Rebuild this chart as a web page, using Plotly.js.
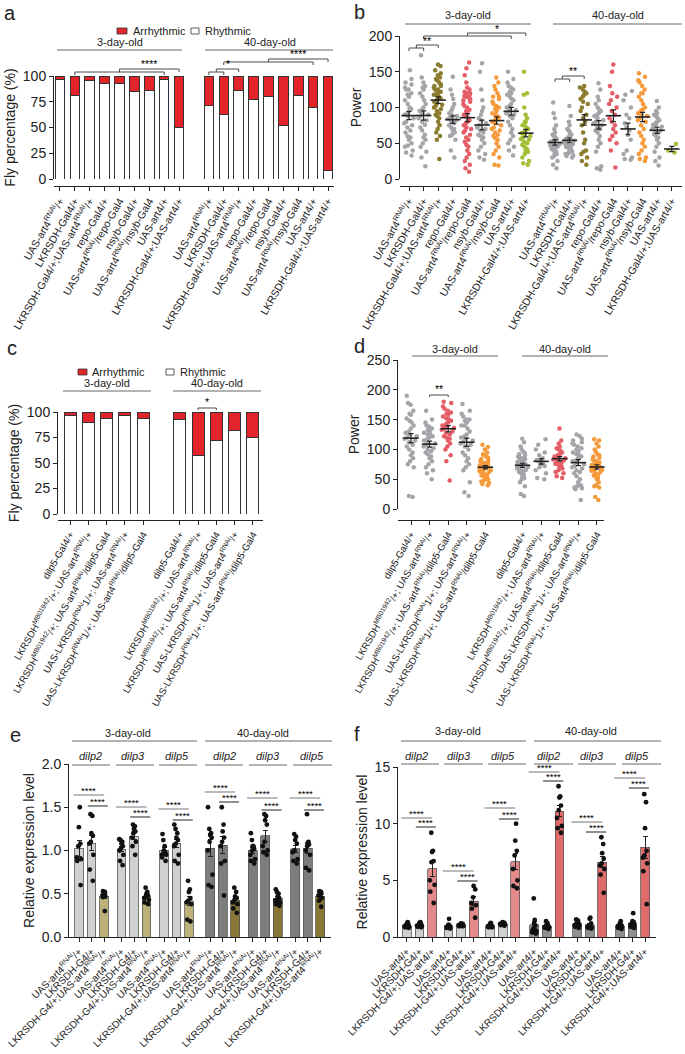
<!DOCTYPE html>
<html><head><meta charset="utf-8">
<script src="https://cdn.plot.ly/plotly-3.0.1.min.js"></script>
<style>html,body{margin:0;padding:0;background:#fff}#chart{width:685px;height:1054px}</style>
</head><body><div id="chart"></div>
<script>
// ---------------- DATA ----------------
// Panel a / b genotypes
const abGenotypes = ['UAS-art4<sup>RNAi</sup>/+','LKRSDH-Gal4/+','LKRSDH-Gal4/+;UAS-art4<sup>RNAi</sup>/+','repo-Gal4/+','UAS-art4<sup>RNAi</sup>/repo-Gal4','nsyb-Gal4/+','UAS-art4<sup>RNAi</sup>/nsyb-Gal4','UAS-art4/+','LKRSDH-Gal4/+;UAS-art4/+'];
// Panel a: fly percentage (%)
const aRhythmic3d    = [97,81,96,93,93,85,86,97,50];
const aArrhythmic3d  = [3,19,4,7,7,15,14,3,50];
const aRhythmic40d   = [71,63,86,77,80,52,81,69,8];
const aArrhythmic40d = [29,37,14,23,20,48,19,31,92];
// Panel b: power per fly
const bPower3d = [
 [152,140,135,132,128,125,125,120,118,115,110,105,100,98,95,92,90,88,85,80,78,75,72,68,65,60,58,55,50,47,45,40,37,33],
 [173,142,135,130,128,125,120,115,110,105,100,97,95,92,90,88,85,82,80,76,72,68,62,58,55,50,45,38,30,18],
 [160,158,152,148,145,142,140,138,135,132,130,128,125,122,120,118,117,115,113,112,110,108,106,104,102,100,98,95,92,90,88,85,80,75,70,65,60,55,120,28,130,125],
 [143,125,118,112,105,100,96,92,90,88,86,84,82,80,78,75,72,70,68,65,62,60,55,40,30],
 [163,155,145,135,128,125,122,120,118,116,114,112,110,108,105,102,100,97,95,92,90,88,85,82,80,78,75,72,70,68,65,62,58,55,52,48,45,40,35,30,25,20,15,10,120,115],
 [162,150,125,110,100,95,90,85,82,78,75,72,70,68,65,62,60,58,55,50,45,40,35,30,27],
 [142,135,130,125,120,115,112,108,105,102,100,98,95,92,90,88,86,84,82,80,78,75,72,70,68,65,62,60,57,55,50,45,40,35,30,20,19,115],
 [150,140,135,130,128,125,122,118,115,112,110,105,102,100,98,96,94,92,90,88,85,80,75,70,65,60,55,50,45,40,33,120],
 [150,120,118,100,90,85,80,75,72,70,68,66,64,62,60,58,56,55,52,50,48,45,42,40,38,35,30,25,22,20,75,80]
];
const bPower40d = [
 [107,92,85,75,70,65,62,60,58,56,55,54,52,50,49,48,47,46,45,44,42,40,38,36,35,32,30,25,20,15],
 [102,88,80,75,70,68,65,62,60,58,56,55,54,52,50,49,48,46,45,44,42,40,38,36,35,33,32,30],
 [130,128,125,122,120,118,115,112,108,105,100,95,90,85,80,75,65,55,50,40,38,35,30,25,20],
 [134,125,115,110,105,100,97,95,92,90,88,85,82,80,78,75,72,70,68,65,60,55,50,45,38,18,15,13],
 [160,150,130,120,115,110,105,100,95,90,85,80,75,70,65,60,55,50,40,16],
 [123,118,110,100,90,85,78,72,68,62,55,40,35,30,28,27],
 [148,143,138,135,130,125,120,115,110,105,100,97,95,92,90,88,85,82,80,75,70,65,60,55,50,45,40,35,30,28,25,120],
 [109,100,95,92,90,88,85,82,80,78,76,75,73,72,70,68,66,65,63,60,58,55,50,45,38,30,25,19],
 [49,40,37]
];
// Panel c / d genotypes
const cdGenotypes = ['dilp5-Gal4/+','LKRSDH<sup>MB01942</sup>/+; UAS-art4<sup>RNAi</sup>/+','LKRSDH<sup>MB01942</sup>/+; UAS-art4<sup>RNAi</sup>/dilp5-Gal4','UAS-LKRSDH<sup>RNAi</sup>1/+; UAS-art4<sup>RNAi</sup>/+','UAS-LKRSDH<sup>RNAi</sup>1/+; UAS-art4<sup>RNAi</sup>/dilp5-Gal4'];
const cRhythmic3d    = [97,90,94,97,94];
const cArrhythmic3d  = [3,10,6,3,6];
const cRhythmic40d   = [93,57,72,82,75];
const cArrhythmic40d = [7,43,28,18,25];
const dPower3d = [
 [190,178,175,165,160,158,152,148,145,140,135,130,128,125,122,120,118,115,112,108,105,100,95,90,85,80,75,70,22,20],
 [165,150,145,140,138,135,132,128,125,122,120,118,115,112,110,108,105,102,100,97,95,92,88,85,80,75,70,65,60,50,130,125],
 [180,178,172,168,165,162,160,158,155,152,150,148,145,142,140,138,136,135,133,130,128,125,122,120,118,115,110,105,100,90,80,48],
 [176,165,160,155,150,148,145,140,135,130,125,122,120,118,115,112,110,108,105,100,95,90,85,80,75,70,65,45,28,22,150,140],
 [108,104,100,95,92,90,88,86,84,82,80,78,77,76,75,74,73,72,71,70,69,68,67,66,65,64,63,62,60,58,56,55,54,52,50,48,46,44,42,40]
];
const dPower40d = [
 [118,112,105,100,96,94,92,90,88,86,85,84,82,80,79,78,77,76,75,74,73,72,71,70,68,66,65,64,62,60,58,55,52,50,45,38,25,22],
 [117,108,100,95,90,85,82,80,78,75,72,70,65,60,52,50],
 [135,115,110,105,102,100,98,95,92,90,88,86,85,84,83,82,80,78,76,75,72,70,68,65,62,60,55,52],
 [125,122,118,115,112,110,108,105,102,100,97,95,92,90,88,85,82,80,78,75,72,70,68,65,62,60,55,50,45,40,38,36,35,33,15],
 [117,115,110,105,100,96,92,90,88,86,84,82,80,78,76,75,74,73,72,71,70,69,68,67,66,65,64,62,60,58,56,55,52,50,45,40,38,36,20,15]
];
// Panel e / f
const efGenes = ['dilp2','dilp3','dilp5'];
const eGenotypes = ['UAS-art4<sup>RNAi</sup>/+','LKRSDH-G4/+','LKRSDH-G4/+;UAS-art4<sup>RNAi</sup>/+'];
const fGenotypes = ['UAS-art4/+','LKRSDH-G4/+','LKRSDH-G4/+;UAS-art4/+'];
const eDilp2_3d  = [[1.50,1.27,1.08,1.05,0.92,0.90,0.88,0.60],[1.42,1.40,1.20,1.17,1.10,1.08,0.95,0.78,0.65],[0.53,0.52,0.51,0.50,0.49,0.48,0.47,0.46,0.30]];
const eDilp3_3d  = [[1.13,1.12,1.10,1.08,1.05,1.02,1.00,0.95,0.88,0.83],[1.30,1.28,1.25,1.22,1.20,1.15,1.10,1.05,0.95],[0.57,0.52,0.50,0.48,0.47,0.45,0.43,0.40,0.38]];
const eDilp5_3d  = [[1.19,1.12,1.05,1.00,0.98,0.97,0.95,0.95,0.92,0.88],[1.30,1.25,1.20,1.15,1.12,1.08,1.05,0.95,0.88,0.85],[0.65,0.55,0.52,0.45,0.42,0.40,0.38,0.20,0.18]];
const eDilp2_40d = [[1.50,1.25,1.20,1.18,1.15,1.10,1.00,0.72,0.60,0.58],[1.50,1.30,1.22,1.15,1.10,1.05,0.88,0.85,0.48],[0.57,0.52,0.47,0.45,0.43,0.40,0.38,0.33,0.28]];
const eDilp3_40d = [[1.20,1.12,1.05,1.05,1.02,1.00,0.95,0.90,0.88,0.85],[1.42,1.40,1.35,1.30,1.10,1.05,1.00,0.98,0.95],[0.55,0.52,0.50,0.47,0.45,0.43,0.42,0.40,0.38,0.36]];
const eDilp5_40d = [[1.19,1.16,1.12,1.08,1.00,0.98,0.90,0.88,0.85],[1.42,1.10,1.08,1.07,1.05,1.00,0.95,0.80,0.77],[0.53,0.52,0.51,0.50,0.49,0.48,0.45,0.42,0.35]];
const fDilp2_3d  = [[1.30,1.20,1.10,1.00,0.95,0.90,0.85,0.80],[1.30,1.25,1.15,1.05,1.00,0.95,0.90,0.85],[9.2,7.6,7.5,6.7,6.6,5.0,4.6,4.0,3.0]];
const fDilp3_3d  = [[1.60,1.10,1.00,0.95,0.90,0.85,0.80,0.75],[1.20,1.15,1.10,1.05,1.00,0.95,0.95],[4.5,4.2,3.5,3.0,2.8,2.5,1.7]];
const fDilp5_3d  = [[1.25,1.15,1.05,1.00,0.95,0.90,0.85,0.85],[1.30,1.25,1.20,1.15,1.10,1.05,1.00],[10.0,8.5,7.6,7.2,6.0,5.0,4.5,4.3]];
const fDilp2_40d = [[3.4,1.5,1.2,1.0,0.8,0.6,0.5,0.4,0.3],[1.4,1.2,1.1,1.0,0.95,0.9,0.85,0.8,0.7],[13.3,12.4,12.3,11.6,11.2,10.5,9.8,9.6,9.2]];
const fDilp3_40d = [[1.55,1.45,1.30,1.20,1.10,1.05,1.00,0.90,0.80],[1.70,1.60,1.20,1.00,0.90,0.85,0.80,0.75],[8.8,8.2,7.4,6.9,6.5,6.3,6.0,5.5,3.9]];
const fDilp5_40d = [[1.40,1.20,1.05,1.00,0.95,0.90,0.80,0.70],[2.10,1.40,1.30,1.20,1.10,1.00,0.90,0.80],[12.6,11.9,9.6,7.6,7.2,7.0,6.5,5.8,2.9]];

// ---------------- STYLE / HELPERS ----------------
const FONT = 'Liberation Sans, Arial, Helvetica, sans-serif';
const INK = '#222';
const W = 685, H = 1054;
const px = v => v / W, py = v => 1 - v / H;
const mean = a => a.reduce((s, v) => s + v, 0) / a.length;
const sem = a => { const m = mean(a); return Math.sqrt(a.reduce((s, v) => s + (v - m) ** 2, 0) / (a.length - 1) / a.length); };
const GRAY = '#a3a5a9', OLIVE = '#8b7c2e', PINK = '#e55d66', ORANGE = '#f59a3b', YG = '#a3bf35', RED = '#e3242b';
const bColors = [GRAY, GRAY, OLIVE, GRAY, PINK, GRAY, ORANGE, GRAY, YG];
const dColors = [GRAY, GRAY, PINK, GRAY, ORANGE];
const HDR = 11;

const traces = [], shapes = [], annotations = [];
function ann(xref, x, ypx, text, size, extra) {
  annotations.push(Object.assign({xref, yref: 'paper', x, y: py(ypx), text, showarrow: false,
    font: {family: FONT, size, color: INK}, xanchor: 'center', yanchor: 'middle'}, extra || {}));
}
function star(xref, x, ypx, text, size) {
  ann(xref, x, ypx, text, size, {font: {family: FONT, size, color: '#000000'}});
}
function hline(xref, x0, x1, ypx, color) {
  shapes.push({type: 'line', xref, yref: 'paper', x0, x1, y0: py(ypx), y1: py(ypx), layer: 'above', line: {color: color || '#666', width: 1}});
}
function bracket(xref, x0, x1, ypx, drop) {
  const y = py(ypx), yd = py(ypx + drop);
  shapes.push({type: 'path', xref, yref: 'paper', path: `M${x0},${yd} L${x0},${y} L${x1},${y} L${x1},${yd}`, layer: 'above',
    fillcolor: 'rgba(0,0,0,0)', line: {color: '#4a4a4a', width: 1}});
}
function rect(x0, x1, y0, y1, fill) {
  shapes.push({type: 'rect', xref: 'paper', yref: 'paper', x0: px(x0), x1: px(x1), y0: py(y1), y1: py(y0), fillcolor: fill, line: {color: '#333', width: 0.8}});
}
function swarm(xa, ya, pos, vals, color, size, width, jitter) {
  traces.push({type: 'box', xaxis: xa, yaxis: ya, x: vals.map(() => pos), y: vals, boxpoints: 'all', jitter, pointpos: 0,
    width, fillcolor: 'rgba(0,0,0,0)', line: {color: 'rgba(0,0,0,0)', width: 0}, marker: {color, size, line: {width: 0}},
    showlegend: false, hoverinfo: 'y'});
}
function meanSem(xa, ya, pos, groups) {
  traces.push({type: 'scatter', mode: 'markers', xaxis: xa, yaxis: ya, x: pos, y: groups.map(mean), cliponaxis: false,
    marker: {symbol: 'line-ew', size: 11, color: INK, line: {color: INK, width: 1.6}},
    error_y: {type: 'data', array: groups.map(sem), visible: true, color: INK, thickness: 1.2, width: 2.5}, showlegend: false});
}
function yAxis(topPx, botPx, range, tickvals, title, anchor, extra) {
  return Object.assign({domain: [py(botPx), py(topPx)], range, tickvals, anchor, ticks: 'outside', ticklen: 4, tickwidth: 1,
    tickcolor: INK, showline: true, linecolor: INK, linewidth: 1, showgrid: false, zeroline: false,
    tickfont: {family: FONT, size: 14, color: INK},
    title: {text: title, font: {family: FONT, size: 14, color: INK}, standoff: 3}}, extra || {});
}
function xAxis(l, r, range, tickvals, ticktext, angle, fsize, anchor, freePx) {
  const ax = {domain: [px(l), px(r)], range, tickvals, ticktext, tickangle: angle, ticks: 'outside', ticklen: 4, tickwidth: 1,
    tickcolor: INK, showline: true, linecolor: INK, linewidth: 1, showgrid: false, zeroline: false,
    ticklabeloverflow: 'allow', tickfont: {family: FONT, size: fsize, color: INK}};
  if (freePx != null) { ax.anchor = 'free'; ax.position = py(freePx); } else { ax.anchor = anchor; }
  return ax;
}

// ---------------- PANEL a ----------------
const abPos3 = abGenotypes.map((_, i) => i), abPos40 = abGenotypes.map((_, i) => i + 10);
const abPos = abPos3.concat(abPos40);
const abLabels = abGenotypes.concat(abGenotypes);
traces.push({type: 'bar', xaxis: 'x', yaxis: 'y', x: abPos, y: aRhythmic3d.concat(aRhythmic40d), width: 0.64, cliponaxis: false,
  marker: {color: '#ffffff', line: {color: '#333', width: 1}}, showlegend: false, name: 'Rhythmic'});
traces.push({type: 'bar', xaxis: 'x', yaxis: 'y', x: abPos, y: aArrhythmic3d.concat(aArrhythmic40d), width: 0.64, cliponaxis: false,
  marker: {color: RED, line: {color: '#333', width: 1}}, showlegend: false, name: 'Arrhythmic'});
// legend a
rect(117, 127, 28, 34, RED); ann('paper', px(131), 31, 'Arrhythmic', HDR, {xanchor: 'left'});
rect(191, 199, 28, 34, '#fff'); ann('paper', px(203), 31, 'Rhythmic', HDR, {xanchor: 'left'});
ann('paper', px(120), 42, '3-day-old', HDR); hline('paper', px(57), px(182), 50);
ann('paper', px(270), 42, '40-day-old', HDR); hline('paper', px(205), px(333), 50);
bracket('x', 1, 7, 72, 3); bracket('x', 4, 8, 69, 3); star('x', 6, 64, '****', 10.5);
bracket('x', 10, 11, 72, 3); bracket('x', 10.5, 12, 69, 3); star('x', 11.25, 64, '*', 10.5);
bracket('x', 11, 17, 62, 3); bracket('x', 14, 18, 59, 3); star('x', 16, 54, '****', 10.5);

// ---------------- PANEL b ----------------
bPower3d.forEach((g, i) => swarm('x2', 'y2', abPos3[i], g, bColors[i], 4.5, 0.9, 0.8));
bPower40d.forEach((g, i) => swarm('x2', 'y2', abPos40[i], g, bColors[i], 4.5, 0.9, 0.8));
meanSem('x2', 'y2', abPos, bPower3d.concat(bPower40d));
ann('paper', px(468), 15, '3-day-old', HDR); hline('paper', px(405), px(531), 24);
ann('paper', px(618), 15, '40-day-old', HDR); hline('paper', px(553), px(682), 24);
bracket('x2', 0, 1, 48, 3); bracket('x2', 0.5, 2, 45, 3); star('x2', 1.25, 41, '**', 10.5);
bracket('x2', 1, 7, 36, 3); bracket('x2', 4, 8, 33, 3); star('x2', 6, 29, '*', 10.5);
bracket('x2', 10, 11, 79, 3); bracket('x2', 10.5, 12, 76, 3); star('x2', 11.25, 71, '**', 10.5);

// ---------------- PANEL c ----------------
const cdPos3 = cdGenotypes.map((_, i) => i), cdPos40 = cdGenotypes.map((_, i) => i + 6);
const cdPos = cdPos3.concat(cdPos40);
const cdLabels = cdGenotypes.concat(cdGenotypes);
traces.push({type: 'bar', xaxis: 'x3', yaxis: 'y3', x: cdPos, y: cRhythmic3d.concat(cRhythmic40d), width: 0.66, cliponaxis: false,
  marker: {color: '#ffffff', line: {color: '#333', width: 1}}, showlegend: false, name: 'Rhythmic'});
traces.push({type: 'bar', xaxis: 'x3', yaxis: 'y3', x: cdPos, y: cArrhythmic3d.concat(cArrhythmic40d), width: 0.66, cliponaxis: false,
  marker: {color: RED, line: {color: '#333', width: 1}}, showlegend: false, name: 'Arrhythmic'});
rect(78, 87, 369, 375, RED); ann('paper', px(90), 372, 'Arrhythmic', HDR, {xanchor: 'left'});
rect(166, 174, 369, 375, '#fff'); ann('paper', px(178), 372, 'Rhythmic', HDR, {xanchor: 'left'});
ann('paper', px(107), 383, '3-day-old', HDR); hline('paper', px(63), px(151), 391);
ann('paper', px(217), 383, '40-day-old', HDR); hline('paper', px(173), px(261), 391);
bracket('x3', 7, 8, 408, 2); star('x3', 7.5, 402, '*', 10.5);

// ---------------- PANEL d ----------------
dPower3d.forEach((g, i) => swarm('x4', 'y4', cdPos3[i], g, dColors[i], 4.5, 0.9, 0.8));
dPower40d.forEach((g, i) => swarm('x4', 'y4', cdPos40[i], g, dColors[i], 4.5, 0.9, 0.8));
meanSem('x4', 'y4', cdPos, dPower3d.concat(dPower40d));
ann('paper', px(455), 349, '3-day-old', HDR); hline('paper', px(412), px(498), 356);
ann('paper', px(565), 349, '40-day-old', HDR); hline('paper', px(522), px(608), 356);
bracket('x4', 1, 2, 395, 2); star('x4', 1.5, 389, '**', 10.5);

// ---------------- PANELS e / f ----------------
function exprPanel(xa, ya, groupStart, sets, colors, dotSize) {
  const pos = [], ys = [], es = [], cols = [];
  sets.forEach((set, g) => set.forEach((vals, k) => {
    const p = groupStart[g] + k;
    pos.push(p); ys.push(mean(vals)); es.push(sem(vals)); cols.push(colors[g][k]);
  }));
  traces.push({type: 'bar', xaxis: xa, yaxis: ya, x: pos, y: ys, width: 0.7, cliponaxis: false,
    marker: {color: cols, line: {color: '#555', width: 0.8}},
    error_y: {type: 'data', array: es, visible: true, color: INK, thickness: 1, width: 2.5}, showlegend: false});
  sets.forEach((set, g) => set.forEach((vals, k) => swarm(xa, ya, groupStart[g] + k, vals, '#111', dotSize, 0.7, 0.7)));
  return pos;
}
const eStart = [0, 3.4, 6.8, 10.5, 13.9, 17.3];
const fStart = [0, 3.3, 6.6, 10.1, 13.5, 16.9];
const E3 = ['#cfd0d0', '#cfd0d0', '#bdb17b'], E40 = ['#7c7d7e', '#7c7d7e', '#877636'];
const F3 = ['#cfd0d0', '#cfd0d0', '#e58a8a'], F40 = ['#8f9091', '#8f9091', '#df6b6b'];
const ePos = exprPanel('x5', 'y5', eStart, [eDilp2_3d, eDilp3_3d, eDilp5_3d, eDilp2_40d, eDilp3_40d, eDilp5_40d], [E3, E3, E3, E40, E40, E40], 4.8);
const fPos = exprPanel('x6', 'y6', fStart, [fDilp2_3d, fDilp3_3d, fDilp5_3d, fDilp2_40d, fDilp3_40d, fDilp5_40d], [F3, F3, F3, F40, F40, F40], 4.8);
const eLabels = [].concat(...Array(6).fill(eGenotypes));
const fLabels = [].concat(...Array(6).fill(fGenotypes));

// e headers
ann('paper', px(128), 733, '3-day-old', HDR); hline('paper', px(72), px(197), 741);
ann('paper', px(263), 733, '40-day-old', HDR); hline('paper', px(205), px(332), 741);
[[90, 72, 110], [133, 116, 154], [177, 159, 197], [224, 205, 243], [268, 249, 287], [312, 293, 332]].forEach((g, i) => {
  ann('paper', px(g[0]), 756, '<i>' + efGenes[i % 3] + '</i>', HDR); hline('paper', px(g[1]), px(g[2]), 765);
});
// f headers
ann('paper', px(458), 731, '3-day-old', HDR); hline('paper', px(401), px(526), 741);
ann('paper', px(591), 731, '40-day-old', HDR); hline('paper', px(534), px(661), 741);
[[416, 401, 439], [459, 444, 483], [503, 488, 526], [548, 534, 573], [592, 578, 616], [637, 622, 661]].forEach((g, i) => {
  ann('paper', px(g[0]), 756, '<i>' + efGenes[i % 3] + '</i>', HDR); hline('paper', px(g[1]), px(g[2]), 764);
});
// significance lines
function sig(xa, start, l1, l2) {
  hline(xa, start - 0.45, start + 2, l1, '#777'); star(xa, start + 0.78, l1 - 5, '****', 9.5);
  hline(xa, start + 0.7, start + 2.3, l2, INK); star(xa, start + 1.5, l2 - 5, '****', 9.5);
}
const eSig = [[795, 806], [807, 817], [809, 820], [792, 802], [798, 810], [798, 810]];
const fSig = [[818, 827], [871, 881], [808, 819], [772, 781], [822, 832], [778, 788]];
eStart.forEach((s, i) => sig('x5', s, eSig[i][0], eSig[i][1]));
fStart.forEach((s, i) => sig('x6', s, fSig[i][0], fSig[i][1]));

// panel letters
[['a', 10, 13], ['b', 359, 12], ['c', 12, 348], ['d', 359, 346], ['e', 16, 735], ['f', 357, 734]].forEach(l =>
  ann('paper', px(l[1]), l[2], l[0], 20));

// ---------------- LAYOUT ----------------
const layout = {
  width: W, height: H, margin: {l: 0, r: 0, t: 0, b: 0}, paper_bgcolor: '#fff', plot_bgcolor: 'rgba(0,0,0,0)',
  showlegend: false, barmode: 'stack', font: {family: FONT, color: INK},
  xaxis:  xAxis(54, 334, [-0.4, 18.4], abPos, abLabels, -60, 10.5, null, 186),
  yaxis:  yAxis(76, 179, [0, 100], [0, 25, 50, 75, 100], 'Fly percentage (%)', 'x'),
  xaxis2: xAxis(400, 682, [-0.62, 18.7], abPos, abLabels, -60, 10.5, null, 186),
  yaxis2: yAxis(36, 179, [0, 200], [0, 50, 100, 150, 200], 'Power', 'x2'),
  xaxis3: xAxis(58, 263, [-0.66, 10.55], cdPos, cdLabels, -60, 9.7, null, 520),
  yaxis3: yAxis(412, 514, [0, 100], [0, 25, 50, 75, 100], 'Fly percentage (%)', 'x3'),
  xaxis4: xAxis(398, 604, [-0.7, 10.38], cdPos, cdLabels, -60, 9.7, null, 520),
  yaxis4: yAxis(360, 509, [0, 250], [0, 50, 100, 150, 200, 250], 'Power', 'x4'),
  xaxis5: xAxis(69, 331, [-0.8, 20.16], ePos, eLabels, -45, 10, 'y5', null),
  yaxis5: yAxis(764, 937, [0, 2], [0, 0.5, 1, 1.5, 2], 'Relative expression level', 'x5', {tickformat: '.1f'}),
  xaxis6: xAxis(398, 656, [-0.71, 19.76], fPos, fLabels, -45, 10, 'y6', null),
  yaxis6: yAxis(767, 937, [0, 15], [0, 5, 10, 15], 'Relative expression level', 'x6'),
  shapes, annotations
};
Plotly.newPlot('chart', traces, layout, {staticPlot: true, displayModeBar: false});
</script></body></html>
